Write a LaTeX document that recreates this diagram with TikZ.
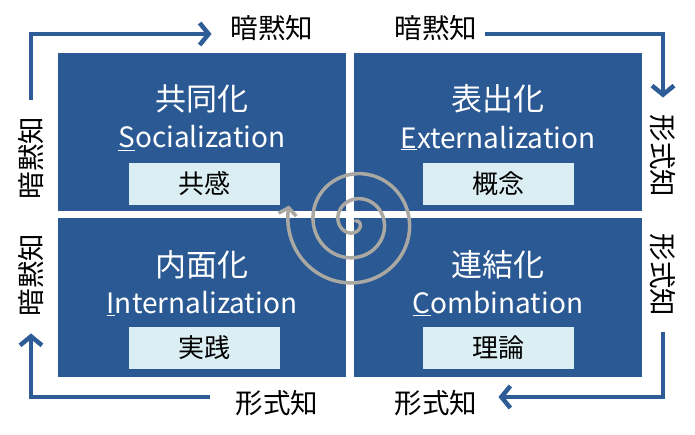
\documentclass[tikz,border=0pt]{standalone}
\usepackage{fontspec}
\setmainfont{Noto Sans CJK JP}
\usetikzlibrary{arrows.meta}
\definecolor{boxblue}{RGB}{43,89,147}
\definecolor{lineblue}{RGB}{46,92,150}
\definecolor{paleblue}{RGB}{218,238,243}
\definecolor{spiralgray}{RGB}{170,168,162}
\begin{document}
\begin{tikzpicture}[x=1pt,y=1pt,
        mode/.style={fill=boxblue,minimum width=288pt,minimum height=158pt,inner sep=0pt},
        keyword/.style={fill=paleblue,minimum width=151pt,minimum height=42pt,inner sep=0pt,font=\fontsize{26}{26}\selectfont},
        title/.style={text=white,font=\fontsize{31}{31}\selectfont},
        english/.style={text=white,font=\fontsize{28}{28}\selectfont},
        know/.style={inner sep=0pt,font=\fontsize{27.5}{27.5}\selectfont},
        flow/.style={line width=4.5pt,lineblue,-{Straight Barb[length=9pt,width=22pt]}},
        spiral/.style={line width=3.5pt,spiralgray,-{Straight Barb[length=7pt,width=18pt]}}]
                \useasboundingbox (0,0) rectangle (695,434);
                %% Quadrants
                \node[mode] (soc) at (202,302) {};
                \node[mode] (ext) at (498,302) {};
                \node[mode] (int) at (202,136.5) {};
                \node[mode] (com) at (498,136.5) {};
                %% Names
                \node[title] (socT) at ([yshift=33pt]soc.center) {共同化};
                \node[english] (socE) at ([yshift=-6pt]soc.center) {\underline{S}ocialization};
                \node[keyword] (socK) at ([xshift=2pt,yshift=-52pt]soc.center) {共感};
                \node[title] (extT) at ([yshift=33pt]ext.center) {表出化};
                \node[english] (extE) at ([yshift=-6pt]ext.center) {\underline{E}xternalization};
                \node[keyword] (extK) at ([yshift=-52pt]ext.center) {概念};
                \node[title] (intT) at ([yshift=33pt]int.center) {内面化};
                \node[english] (intE) at ([yshift=-6pt]int.center) {\underline{I}nternalization};
                \node[keyword] (intK) at ([xshift=2pt,yshift=-50pt]int.center) {実践};
                \node[title] (comT) at ([yshift=33pt]com.center) {連結化};
                \node[english] (comE) at ([yshift=-6pt]com.center) {\underline{C}ombination};
                \node[keyword] (comK) at ([yshift=-50pt]com.center) {理論};
                %% Knowledge
                \node[know] (lT1) at (272,406) {暗黙知};
                \node[know] (lT2) at (436,406) {暗黙知};
                \node[know] (lB1) at (277,31) {形式知};
                \node[know] (lB2) at (436,31) {形式知};
                \node[know,rotate=90] (lL1) at (31,276) {暗黙知};
                \node[know,rotate=90] (lL2) at (31,159) {暗黙知};
                \node[know,rotate=-90] (lR1) at (663,278) {形式知};
                \node[know,rotate=-90] (lR2) at (663,159) {形式知};
                %% Flows
                \draw[flow,shorten <=17pt,shorten >=19pt] (lL1.east) |- ([yshift=-6pt]lT1.west);
                \draw[flow,shorten <=8pt,shorten >=17pt] ([yshift=-6pt]lT2.east) -| (lR1.west);
                \draw[flow,shorten <=16pt,shorten >=21pt] (lR2.east) |- ([yshift=6pt]lB2.east);
                \draw[flow,shorten <=26pt,shorten >=17pt] ([yshift=6pt]lB1.west) -| (lL2.west);
                %% Spiral
                \draw[spiral] plot[domain=0:972,samples=300,smooth,variable=\t]
                    ({355+0.070*\t*cos(58-\t)},{212+0.070*\t*sin(58-\t)});
            \end{tikzpicture}
\end{document}
